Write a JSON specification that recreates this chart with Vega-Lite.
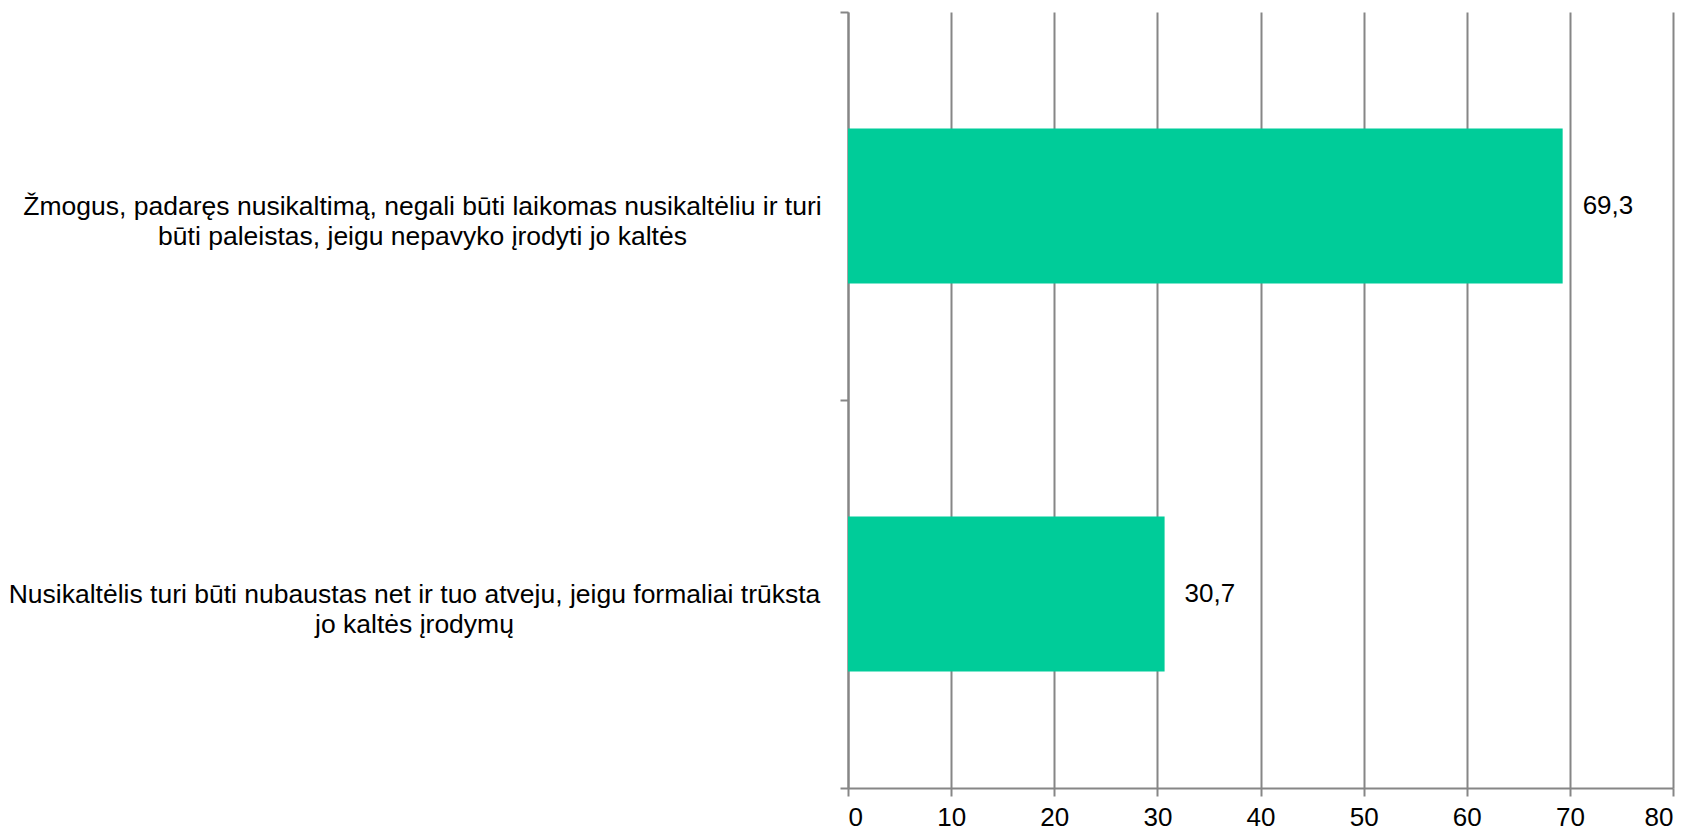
{
  "$schema": "https://vega.github.io/schema/vega-lite/v6.json",
  "autosize": "none",
  "width": 825,
  "height": 776,
  "padding": {"left": 848, "top": 12, "right": 21, "bottom": 44},
  "background": "white",
  "config": {
    "view": {"stroke": null},
    "font": "Liberation Sans",
    "locale": {"number": {"decimal": ",", "thousands": " ", "grouping": [3], "currency": ["", ""]}}
  },
  "data": {
    "values": [
      {"category": "Žmogus, padaręs nusikaltimą, negali būti laikomas nusikaltėliu ir turi\nbūti paleistas, jeigu nepavyko įrodyti jo kaltės", "value": 69.3},
      {"category": "Nusikaltėlis turi būti nubaustas net ir tuo atveju, jeigu formaliai trūksta\njo kaltės įrodymų", "value": 30.7}
    ]
  },
  "encoding": {
    "y": {
      "field": "category",
      "type": "nominal",
      "sort": null,
      "title": null,
      "scale": {"paddingInner": 0, "paddingOuter": 0},
      "axis": {
        "labelExpr": "split(datum.label, '\\n')",
        "labelAlign": "center",
        "labelBaseline": "middle",
        "labelPadding": {"condition": {"test": "indexof(datum.label, 'Žmogus') === 0", "value": 418}, "value": 426},
        "labelFontSize": 26.5,
        "labelLineHeight": 30,
        "labelColor": "#000000",
        "labelLimit": 0,
        "tickBand": "extent",
        "tickSize": 8,
        "tickWidth": 2,
        "tickColor": "#868686",
        "domainColor": "#868686",
        "domainWidth": 2,
        "grid": false
      }
    },
    "x": {
      "field": "value",
      "type": "quantitative",
      "title": null,
      "scale": {"domain": [0, 80], "nice": false},
      "axis": {
        "values": [0, 10, 20, 30, 40, 50, 60, 70, 80],
        "format": "d",
        "labelFontSize": 26,
        "labelColor": "#000000",
        "labelPadding": 8,
        "tickSize": 8,
        "tickWidth": 2,
        "tickColor": "#868686",
        "domainColor": "#868686",
        "domainWidth": 2,
        "grid": true,
        "gridColor": "#868686",
        "gridWidth": 2,
        "gridOpacity": 1
      }
    }
  },
  "layer": [
    {"mark": {"type": "bar", "color": "#00CC99", "height": {"band": 0.4}}},
    {
      "mark": {"type": "text", "align": "left", "baseline": "middle", "dx": 20, "fontSize": 26, "color": "#000000"},
      "encoding": {"text": {"field": "value", "type": "quantitative", "format": ".1f"}}
    }
  ]
}
